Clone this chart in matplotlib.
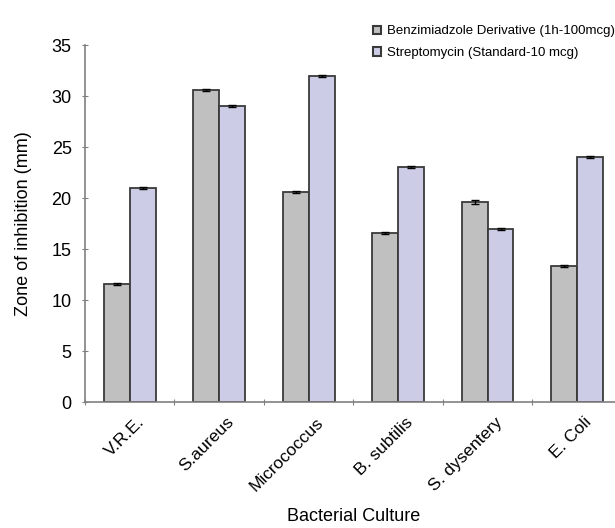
import numpy as np
import matplotlib.pyplot as plt
import matplotlib.transforms as mtransforms
from matplotlib.patches import Patch

plt.rcParams['font.family'] = ['Liberation Sans', 'DejaVu Sans']

cultures = ['V.R.E.', 'S.aureus', 'Micrococcus', 'B. subtilis', 'S. dysentery', 'E. Coli']
derivative = [11.6, 30.6, 20.6, 16.6, 19.6, 13.3]
derivative_err = [0.1, 0.1, 0.1, 0.1, 0.2, 0.1]
streptomycin = [21.0, 29.0, 32.0, 23.0, 17.0, 24.0]
streptomycin_err = [0.1, 0.1, 0.1, 0.1, 0.1, 0.1]
legend_labels = ['Benzimiadzole Derivative (1h-100mcg)', 'Streptomycin (Standard-10 mcg)']

gray = '#c0c0c0'
purple = '#cccce6'
edge = '#3a3a3a'

fig = plt.figure(figsize=(6.15, 5.28), dpi=100)
ax = fig.add_axes([0.138, 0.2386, 0.873, 0.6761])

x = np.arange(len(cultures)) + 0.5
w = 0.29
ax.bar(x - w / 2, derivative, w, color=gray, edgecolor=edge, linewidth=1.3,
       yerr=derivative_err, capsize=3, error_kw=dict(elinewidth=1, capthick=1, ecolor='black'))
ax.bar(x + w / 2, streptomycin, w, color=purple, edgecolor=edge, linewidth=1.3,
       yerr=streptomycin_err, capsize=3, error_kw=dict(elinewidth=1, capthick=1, ecolor='black'))

ax.set_xlim(0, len(cultures))
ax.set_ylim(0, 35)
ax.set_yticks(np.arange(0, 36, 5))

# major ticks at category boundaries, labels at centres
ax.set_xticks(np.arange(0, len(cultures) + 1))
ax.set_xticklabels([])
ax.set_xticks(x, minor=True)
ax.set_xticklabels(cultures, minor=True, rotation=45, ha='right', rotation_mode='anchor', fontsize=12.5)
ax.tick_params(axis='x', which='minor', length=0, pad=9)
ax.tick_params(axis='x', which='major', direction='inout', length=5, color='#808080')
ax.tick_params(axis='y', direction='inout', length=5, color='#808080', labelsize=13, pad=7)

# nudge the rotated labels a little to the right
shift = mtransforms.ScaledTranslation(5 / 72, 0, fig.dpi_scale_trans)
for lab in ax.get_xticklabels(minor=True):
    lab.set_transform(lab.get_transform() + shift)

for s in ['top', 'right']:
    ax.spines[s].set_visible(False)
for s in ['left', 'bottom']:
    ax.spines[s].set_color('#808080')
    ax.spines[s].set_linewidth(1.2)

ax.set_ylabel('Zone of inhibition (mm)', fontsize=13, labelpad=14)
ax.set_xlabel('Bacterial Culture', fontsize=13, labelpad=10)

handles = [Patch(facecolor=gray, edgecolor=edge, linewidth=1.5),
           Patch(facecolor=purple, edgecolor=edge, linewidth=1.5)]
fig.legend(handles, legend_labels, loc='upper left', bbox_to_anchor=(0.598, 0.962),
           frameon=False, fontsize=9.5, handlelength=0.6, handleheight=0.6,
           handletextpad=0.45, labelspacing=0.75, borderaxespad=0)

fig.savefig('out.png', dpi=100)
